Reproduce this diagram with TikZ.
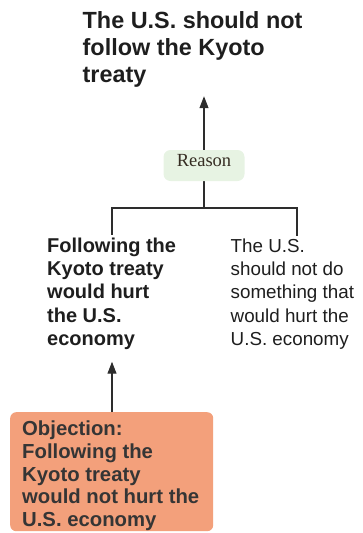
\documentclass[tikz,border=0pt]{standalone}
\usepackage{fontspec}
\usetikzlibrary{arrows.meta,calc}
\newfontfamily\sansA{Liberation Sans}
\newfontfamily\serifA{Liberation Serif}
\definecolor{ink}{RGB}{30,30,30}
\definecolor{wire}{RGB}{45,45,45}
\definecolor{reasonfill}{RGB}{231,243,227}
\definecolor{objfill}{RGB}{243,160,123}
\tikzset{
  txt/.style={anchor=north west, inner sep=0pt, align=left, text=ink},
  wireline/.style={draw=wire, line width=1.1pt},
  arr/.style={wireline, -{Triangle[length=12pt,width=9pt]}},
}
\begin{document}
\begin{tikzpicture}[x=1pt,y=-1pt]
\useasboundingbox (0,0) rectangle (363,533);

% claim at the top
\node[txt, font=\sansA\bfseries\fontsize{23.4}{27}\selectfont] (claim) at (82.5,11)
  {The U.S. should not\\follow the Kyoto\\treaty};

% the two premises
\node[txt, font=\sansA\bfseries\fontsize{20}{23.3}\selectfont] (lp) at (47,237.5)
  {Following the\\Kyoto treaty\\would hurt\\the U.S.\\economy};
\node[txt, font=\sansA\fontsize{18.8}{23.3}\selectfont] (rp) at (230.5,238.5)
  {The U.S.\\should not do\\something that\\would hurt the\\U.S. economy};

% objection box
\node[anchor=north west, fill=objfill, rounded corners=6pt, minimum width=203pt,
      minimum height=119pt, inner sep=0pt] (obj) at (10,412) {};
\node[txt, font=\sansA\bfseries\fontsize{20.3}{22.8}\selectfont, text=ink!90!white]
  (objtxt) at (22,420.5)
  {Objection:\\Following the\\Kyoto treaty\\would not hurt the\\U.S. economy};

% reason bracket
\coordinate (jl) at (112,208);
\coordinate (jr) at (297,208);
\coordinate (jm) at (204,208);
\draw[wireline] ($(jl |- lp.north)+(0,-3)$) -- (jl) -- (jr) -- ($(jr |- rp.north)+(0,-3)$);
\draw[arr, shorten >=9pt] (jm) -- (jm |- claim.south);

\node[fill=reasonfill, rounded corners=7pt, minimum width=81pt, minimum height=31pt,
      inner sep=0pt, text depth=10pt, font=\serifA\fontsize{18.5}{20}\selectfont,
      text=ink!85!brown]
  (reason) at (204,165.5) {Reason};

% objection arrow
\draw[arr, shorten >=12pt] (obj.north -| jl) -- (jl |- lp.south);
\end{tikzpicture}
\end{document}
